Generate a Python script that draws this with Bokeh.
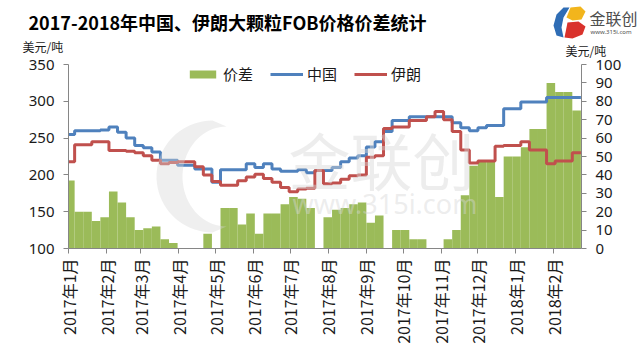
import math
import numpy as np
import pandas as pd
from bokeh.plotting import figure
from bokeh.layouts import column
from bokeh.models import (Range1d, LinearAxis, FixedTicker, Label, Legend,
                          LegendItem, PolyAnnotation, ColumnDataSource)
from bokeh.embed import file_html
from bokeh.resources import INLINE

# ---------------- data (weekly, each value holds for one week) ----------------
FIRST_WEEK = "2016-12-30"
china = [255, 260, 260, 260, 261, 265, 258, 250, 240, 237,
         231, 220, 220, 213, 213, 208, 208, 190, 207, 207,
         207, 215, 210, 215, 208, 205, 205, 207, 203, 206,
         206, 210, 218, 223, 226, 238, 245, 259, 274, 274,
         279, 279, 279, 279, 279, 271, 264, 260, 264, 267,
         267, 290, 290, 299, 299, 299, 305, 305, 305, 305]
iran = [218, 241, 241, 245, 245, 233, 233, 232, 230, 226,
        220, 215, 217, 218, 218, 211, 200, 191, 186, 186,
        192, 197, 201, 195, 190, 183, 177, 181, 182, 206,
        188, 189, 194, 199, 200, 224, 226, 263, 265, 265,
        274, 274, 279, 286, 275, 259, 234, 216, 219, 219,
        239, 240, 240, 245, 234, 234, 215, 219, 219, 230]
spread = [37, 20, 20, 15, 17, 31, 25, 17, 10, 11,
          12, 5, 3, -2, -2, -2, 8, -1, 22, 22,
          13, 19, 8, 19, 19, 24, 28, 27, 22, -1,
          17, 21, 22, 24, 25, 14, 18, -2, 10, 10,
          5, 5, -1, -2, 5, 10, 29, 45, 47, 47,
          28, 50, 50, 55, 65, 65, 90, 85, 85, 75]
series_names = ["价差", "中国", "伊朗"]
left_ticks = [100, 150, 200, 250, 300, 350]
right_ticks = [0, 10, 20, 30, 40, 50, 60, 70, 80, 90, 100]
month_ticks = ["2017-01-01", "2017-02-01", "2017-03-01", "2017-04-01", "2017-05-01",
               "2017-06-01", "2017-07-01", "2017-08-01", "2017-09-01", "2017-10-01",
               "2017-11-01", "2017-12-01", "2018-01-01", "2018-02-01"]
month_labels = ["2017年1月", "2017年2月", "2017年3月", "2017年4月", "2017年5月",
                "2017年6月", "2017年7月", "2017年8月", "2017年9月", "2017年10月",
                "2017年11月", "2017年12月", "2018年1月", "2018年2月"]
TITLE = "2017-2018年中国、伊朗大颗粒FOB价格价差统计"
UNIT = "美元/吨"
BRAND = "金联创"
SITE = "www.315i.com"

# ---------------- helpers ----------------
def ms(s):
    return int(pd.Timestamp(s).timestamp() * 1000)

WEEK = 7 * 24 * 3600 * 1000
weeks = pd.date_range(FIRST_WEEK, periods=len(china), freq="7D")
week_ms = np.array([int(w.timestamp() * 1000) for w in weeks], dtype=float)
step_x = list(week_ms) + [week_ms[-1] + WEEK]

GREEN, BLUE, RED = "#9BBB59", "#4F81BD", "#C0504D"
AX = "#868686"
FONT = "Noto Sans CJK SC"
NUMFONT = "Noto Sans"
TXT = "#1a1a1a"

W, H = 640, 351
TOP_H = 60                      # header strip (title, logo, units)
OVERLAP = 22                    # main chart canvas starts at TOP_H - OVERLAP
L, R, B = 68, 59, 103           # main plot borders
FRAME_TOP = 64                  # absolute y of plot-area top

# ---------------- header strip ----------------
top = figure(width=W, height=TOP_H, x_range=Range1d(0, W), y_range=Range1d(TOP_H, 0),
             output_backend="svg", toolbar_location=None,
             x_axis_location=None, y_axis_location=None, frame_align=False,
             min_border_left=0, min_border_right=0, min_border_top=0, min_border_bottom=0)
top.outline_line_color = None
top.grid.visible = False

top.add_layout(Label(x=28, y=21, text=TITLE, text_font=FONT, text_font_size="18px",
                     text_font_style="bold", text_color="#000000",
                     text_baseline="middle", text_align="left"))
top.add_layout(Label(x=22, y=46, text=UNIT, text_font=FONT, text_font_size="12px",
                     text_color=TXT, text_baseline="middle", text_align="left"))
top.add_layout(Label(x=565, y=50, text=UNIT, text_font=FONT, text_font_size="12px",
                     text_color=TXT, text_baseline="middle", text_align="left"))
# logo
logo_blue = [(563, 7), (569, 7), (563, 17), (561, 27), (563, 37), (556, 35), (553, 25), (556, 14)]
logo_yel = [(570, 7), (580, 6), (585, 11), (581, 19), (572, 20), (566, 17)]
logo_red = [(567, 22), (578, 21), (585, 26), (582, 34), (572, 38), (564, 37)]
for pts, col in ((logo_blue, "#2f6db5"), (logo_yel, "#f2b51c"), (logo_red, "#d9322c")):
    top.add_layout(PolyAnnotation(xs=[a for a, b in pts], ys=[b for a, b in pts],
                                  fill_color=col, fill_alpha=1, line_color=None))
top.add_layout(Label(x=589, y=17, text=BRAND, text_font=FONT, text_font_size="16px",
                     text_color="#4d4d4d", text_baseline="middle", text_align="left"))
top.add_layout(Label(x=590, y=31, text=SITE, text_font=NUMFONT, text_font_size="6px",
                     text_color="#4d4d4d", text_baseline="middle", text_align="left"))

# ---------------- main chart (transparent canvas, overlaps the header a little) ----------------
p_top = TOP_H - OVERLAP
p = figure(width=W, height=H - p_top, x_axis_type="datetime",
           x_range=Range1d(ms("2017-01-01"), ms("2018-02-23 12:00")),
           y_range=Range1d(left_ticks[0], left_ticks[-1]),
           output_backend="svg", toolbar_location=None, frame_align=False,
           min_border_left=L, min_border_right=R,
           min_border_top=FRAME_TOP - p_top, min_border_bottom=B,
           margin=(-OVERLAP, 0, 0, 0))
p.outline_line_color = None
p.grid.visible = False
p.background_fill_alpha = 0
p.border_fill_alpha = 0
p.extra_y_ranges = {"spread": Range1d(right_ticks[0], right_ticks[-1])}

def fx(cx):   # absolute x -> frame-relative screen x
    return cx - L

def fy(cy):   # absolute y -> frame-relative screen y (from frame bottom)
    return (H - B) - cy

src = ColumnDataSource(dict(left=week_ms, right=week_ms + WEEK, top=spread,
                            bottom=[0] * len(spread)))
bars = p.quad(left="left", right="right", top="top", bottom="bottom", source=src,
              y_range_name="spread", fill_color=GREEN, line_color=None)
l_cn = p.step(step_x, china + [china[-1]], mode="after", line_color=BLUE, line_width=3)
l_ir = p.step(step_x, iran + [iran[-1]], mode="after", line_color=RED, line_width=3)

# watermark (semi-transparent, over the data like the original)
WM = "#d6d6d6"
th = np.linspace(0.5 * math.pi, 1.5 * math.pi, 40)
outer = [(212 + 56 * math.cos(t), 176 - 56 * math.sin(t)) for t in th]
inner = [(226 + 44 * math.cos(t), 176 - 50 * math.sin(t)) for t in th[::-1]]
ring = outer + inner
p.add_layout(PolyAnnotation(xs=[fx(a) for a, b in ring], ys=[fy(b) for a, b in ring],
                            xs_units="screen", ys_units="screen",
                            fill_color=WM, fill_alpha=0.4, line_color=None))
p.add_layout(Label(x=fx(288), y=fy(158), x_units="screen", y_units="screen", text=BRAND,
                   text_font=FONT, text_font_size="62px", text_color=WM, text_alpha=0.45,
                   text_baseline="middle", text_align="left"))
p.add_layout(Label(x=fx(292), y=fy(203), x_units="screen", y_units="screen", text=SITE,
                   text_font=NUMFONT, text_font_size="27px", text_color=WM, text_alpha=0.45,
                   text_baseline="middle", text_align="left"))

# axes
xa = p.xaxis[0]
xa.ticker = FixedTicker(ticks=[ms(m) for m in month_ticks])
xa.major_label_overrides = {ms(m): lab for m, lab in zip(month_ticks, month_labels)}
xa.major_label_orientation = math.pi / 2
xa.major_label_text_font = FONT
xa.major_label_text_font_size = "16px"
xa.major_label_text_color = TXT
xa.major_label_standoff = 5

ya = p.yaxis[0]
ya.ticker = FixedTicker(ticks=left_ticks)
ya.major_label_text_font = NUMFONT
ya.major_label_text_font_size = "15px"
ya.major_label_text_color = TXT
ya.major_label_standoff = 9

ra = LinearAxis(y_range_name="spread", ticker=FixedTicker(ticks=right_ticks))
ra.major_label_text_font = NUMFONT
ra.major_label_text_font_size = "15px"
ra.major_label_text_color = TXT
ra.major_label_standoff = 9
p.add_layout(ra, "right")

for ax in (xa, ya, ra):
    ax.axis_line_color = AX
    ax.major_tick_line_color = AX
    ax.major_tick_out = 5
    ax.major_tick_in = 0
    ax.minor_tick_line_color = None

legend = Legend(items=[LegendItem(label=series_names[0], renderers=[bars]),
                       LegendItem(label=series_names[1], renderers=[l_cn]),
                       LegendItem(label=series_names[2], renderers=[l_ir])],
                orientation="horizontal", location=(186 - L, fy(84)),
                padding=0, margin=0, spacing=17, label_standoff=4,
                glyph_width=33, glyph_height=10, label_height=20,
                label_text_font=FONT, label_text_font_size="15px",
                label_text_color=TXT,
                border_line_alpha=0, background_fill_alpha=0)
p.add_layout(legend)

page = column(top, p, spacing=0)
open("out.html", "w").write(file_html(page, INLINE))
